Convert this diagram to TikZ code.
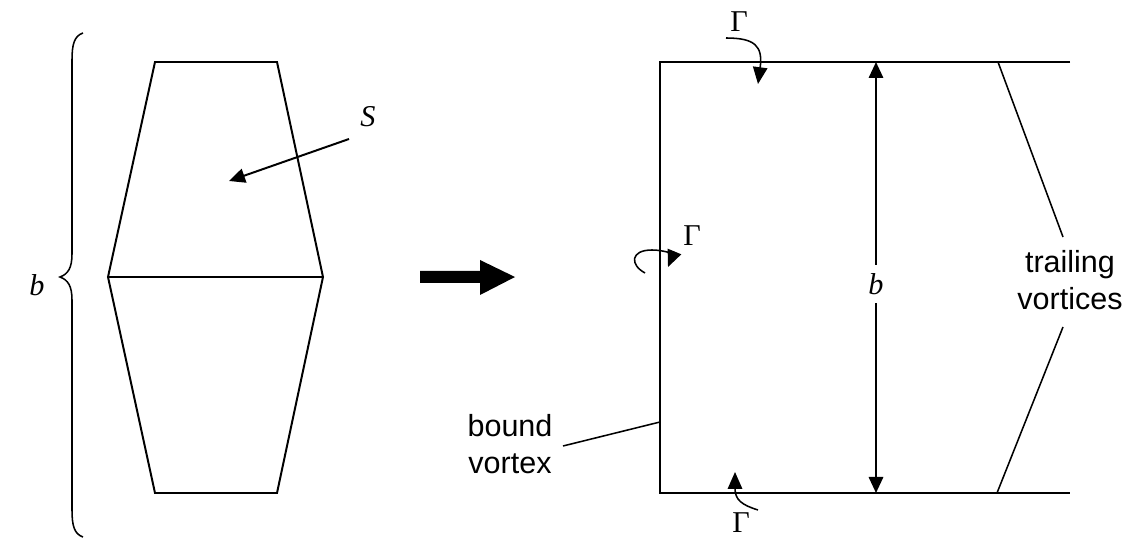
\documentclass[tikz,border=0pt]{standalone}
\usepackage{fontspec}
\setmainfont{Liberation Serif}
\newfontfamily\labelfont{Liberation Sans}
\usetikzlibrary{positioning, arrows.meta}

\begin{document}
\begin{tikzpicture}[
    x=0.025cm, y=-0.025cm,
    font=\fontsize{21.5}{25}\selectfont,
    edge/.style={
        draw,
        line width=1.4pt
    },
    thinEdge/.style={
        draw,
        line width=1.1pt
    },
    pointer/.style={
        draw,
        line width=1.4pt,
        -{Triangle[length=0.4cm, width=0.36cm]}
    },
    curlArrow/.style={
        draw,
        line width=1.1pt,
        -{Triangle[length=0.42cm, width=0.36cm]}
    },
    wordLabel/.style={
        font=\labelfont\fontsize{21.7}{26.3}\selectfont,
        align=center,
        inner sep=0pt
    },
    symLabel/.style={
        inner sep=2pt
    }
]

\useasboundingbox (0,0) rectangle (1132,543);

% --- Wing planform (left) ---
\coordinate (wTopL) at (155,62);
\coordinate (wTopR) at (277,62);
\coordinate (wMidL) at (108,277);
\coordinate (wMidR) at (323,277);
\coordinate (wBotL) at (155,493);
\coordinate (wBotR) at (277,493);

\draw[edge] (wTopL) -- (wTopR) -- (wMidR) -- (wBotR) -- (wBotL) -- (wMidL) -- cycle;
\draw[edge] (wMidL) -- (wMidR);

% area label
\node[symLabel] (sLabel) at (368,117) {\textit{S}};
\coordinate (sStart) at (349,139);
\coordinate (sTip) at (229,181);
\draw[pointer] (sStart) -- (sTip);

% --- Span brace ---
\coordinate (braceTop) at (83,33);
\coordinate (braceTip) at (60,277);
\coordinate (braceBot) at (83,537);
\draw[thinEdge] (braceTop) .. controls (74,36) and (72,45) .. (72,60) -- (72,254)
    .. controls (72,268) and (68,274) .. (braceTip)
    .. controls (68,280) and (72,286) .. (72,300) -- (72,510)
    .. controls (72,525) and (74,534) .. (braceBot);
\node[symLabel] (bLeft) at (37,285) {\textit{b}};

% --- Block arrow ---
\fill (420,271) -- (480,271) -- (480,260) -- (515,277) -- (480,295) -- (480,283) -- (420,283) -- cycle;

% --- Horseshoe vortex (right) ---
\coordinate (vTopL) at (660,62);
\coordinate (vTopR) at (1070,62);
\coordinate (vBotL) at (660,493);
\coordinate (vBotR) at (1070,493);
\draw[edge] (vTopR) -- (vTopL) -- (vBotL) -- (vBotR);

% trailing legs
\coordinate (tTopA) at (998,62);
\coordinate (tTopB) at (1063,237);
\coordinate (tBotA) at (997,493);
\coordinate (tBotB) at (1063,327);
\draw[thinEdge] (tTopA) -- (tTopB);
\draw[thinEdge] (tBotA) -- (tBotB);

% span dimension
\node[symLabel, fill=white, inner sep=6pt] (bRight) at (876,284) {\textit{b}};
\coordinate (dimTop) at (876,62);
\coordinate (dimBot) at (876,493);
\draw[pointer] (bRight) -- (dimTop);
\draw[pointer] (bRight) -- (dimBot);

% circulation marks
\node[symLabel] (gTop) at (739,22) {Γ};
\draw[curlArrow] (726,38) .. controls (755,38) and (763,46) .. (758,84);

\node[symLabel] (gLeft) at (692,236) {Γ};
\draw[curlArrow] (645,273) .. controls (630,265) and (630,250) .. (652,250)
    .. controls (665,250) and (673,255) .. (668,267);

\node[symLabel] (gBot) at (741,523) {Γ};
\draw[curlArrow] (758,510) .. controls (742,505) and (735,500) .. (735,472);

% --- Text labels ---
\node[wordLabel] (boundLbl) at (510,444) {bound\\vortex};
\coordinate (bvStart) at (563,446);
\coordinate (bvEnd) at (660,422);
\draw[thinEdge] (bvStart) -- (bvEnd);

\node[wordLabel] (trailLbl) at (1070,280) {trailing\\vortices};

\end{tikzpicture}
\end{document}
